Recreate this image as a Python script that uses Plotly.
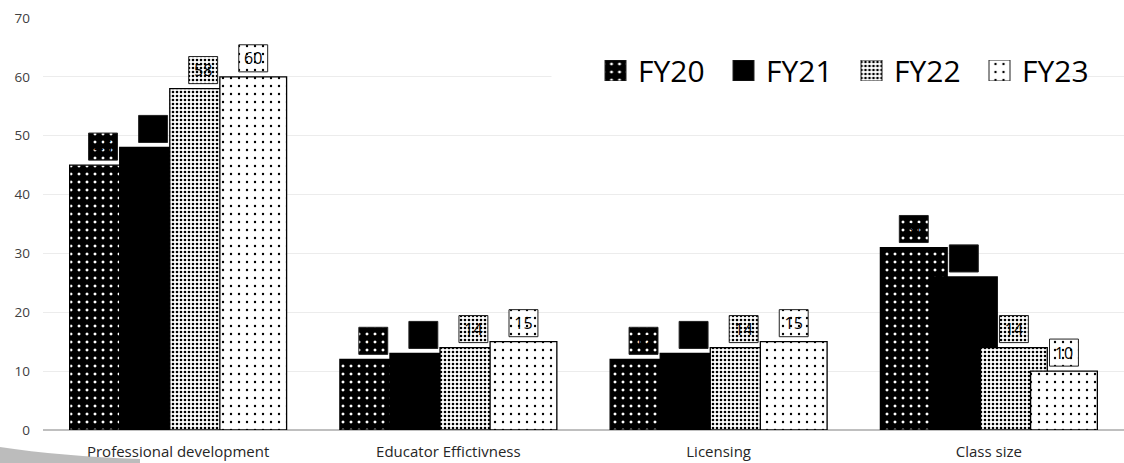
import plotly.graph_objects as go

categories = ["Professional development", "Educator Effictivness", "Licensing", "Class size"]
series_names = ["FY20", "FY21", "FY22", "FY23"]
fy20 = [45, 12, 12, 31]
fy21 = [48, 13, 13, 26]
fy22 = [58, 14, 14, 14]
fy23 = [60, 15, 15, 10]
y_ticks = [0, 10, 20, 30, 40, 50, 60, 70]

series_values = [fy20, fy21, fy22, fy23]

# fill styles per series: (background, dot colour, dot spacing, solidity)
styles = [
    dict(bg="black", fg="white", shape=".", size=8, solidity=0.11),
    dict(bg="black", fg="black", shape="", size=8, solidity=0.1),
    dict(bg="white", fg="black", shape=".", size=4, solidity=0.33),
    dict(bg="white", fg="black", shape=".", size=8, solidity=0.07),
]

def marker_for(st, line_color="black", line_width=1.3):
    return dict(
        color=st["bg"],
        line=dict(color=line_color, width=line_width),
        pattern=dict(shape=st["shape"], bgcolor=st["bg"], fgcolor=st["fg"],
                     size=st["size"], solidity=st["solidity"], fillmode="replace"),
    )

# overlapping clustered bars (25% overlap)
bar_w = 0.247
step = 0.75 * bar_w
start = -(bar_w + 3 * step) / 2
offsets = [start + i * step for i in range(4)]

# data-label boxes above each bar
box_w = 0.107
box_h = 4.6
box_gap = 0.85

fig = go.Figure()

for name, vals, st, off in zip(series_names, series_values, styles, offsets):
    fig.add_trace(go.Bar(
        x=categories, y=vals, name=name,
        width=[bar_w] * len(vals), offset=off,
        marker=marker_for(st),
        showlegend=False, hoverinfo="skip",
    ))

for name, vals, st, off in zip(series_names, series_values, styles, offsets):
    fig.add_trace(go.Bar(
        x=categories, y=[box_h] * len(vals), base=[v + box_gap for v in vals],
        width=[box_w] * len(vals), offset=off + (bar_w - box_w) / 2,
        text=[str(v) for v in vals], textposition="inside", insidetextanchor="middle",
        textangle=0, constraintext="none",
        textfont=dict(size=16, color="black", family="Open Sans"),
        marker=marker_for(st, "#222222", 1),
        showlegend=False, hoverinfo="skip",
    ))

plot_l, plot_r, plot_t, plot_b = 43, 0, 18, 33
W, H = 1124, 463
pw = W - plot_l - plot_r
ph = H - plot_t - plot_b

def px_x(p):
    return (p - plot_l) / pw

def px_y(p):
    return (H - plot_b - p) / ph

# legend built on its own small category axis so the swatches can be large
legend_pitch = 128
legend_first = 615.5
swatch = 21
leg_left = legend_first - legend_pitch / 2
leg_right = leg_left + legend_pitch * len(series_names)
for name, st in zip(series_names, styles):
    fig.add_trace(go.Bar(
        x=[name], y=[1], xaxis="x2", yaxis="y2",
        width=[swatch / legend_pitch],
        marker=marker_for(st, "#222222", 1),
        showlegend=False, hoverinfo="skip",
    ))
    fig.add_annotation(
        x=name, y=0.5, xref="x2", yref="y2", text=name, showarrow=False,
        xanchor="left", yanchor="middle", xshift=swatch / 2 + 10,
        font=dict(size=30, color="black", family="Open Sans"),
    )

# soft grey slide shadow in the lower-left corner
fig.add_shape(type="path", xref="paper", yref="paper",
              path=f"M {px_x(0)},{px_y(447)} Q {px_x(60)},{px_y(456)} {px_x(140)},{px_y(459)} "
                   f"L {px_x(140)},{px_y(463)} L {px_x(0)},{px_y(463)} Z",
              fillcolor="#a6a6a6", line=dict(width=0), layer="above", opacity=0.75)

fig.update_layout(
    width=W, height=H,
    margin=dict(l=plot_l, r=plot_r, t=plot_t, b=plot_b),
    paper_bgcolor="white", plot_bgcolor="white",
    barmode="overlay",
    font=dict(family="Open Sans", color="#404040"),
    showlegend=False,
    xaxis=dict(type="category", range=[-0.5, 3.5], showgrid=False,
               showline=False, ticks="", ticklabelstandoff=11,
               tickfont=dict(size=15, color="#262626")),
    yaxis=dict(range=[0, 70], tickvals=y_ticks, showgrid=True, gridcolor="#ececec", gridwidth=1,
               zeroline=True, zerolinecolor="#bfbfbf", zerolinewidth=2,
               tickfont=dict(size=13.5, color="#404040"), ticklabelstandoff=12),
    xaxis2=dict(type="category", domain=[px_x(leg_left), px_x(leg_right)], range=[-0.5, 3.5],
                anchor="y2", visible=False, fixedrange=True),
    yaxis2=dict(domain=[px_y(81), px_y(60)], range=[0, 1], anchor="x2",
                visible=False, fixedrange=True),
)

fig.write_html("out.html")
